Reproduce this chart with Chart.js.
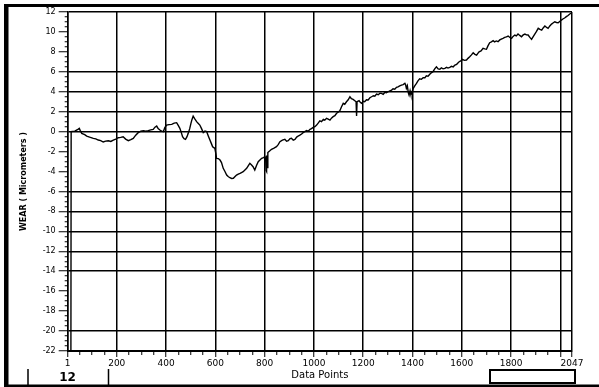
<!DOCTYPE html>
<html>
<head>
<meta charset="utf-8">
<title>Wear</title>
<script src="https://cdn.jsdelivr.net/npm/chart.js@4.4.1/dist/chart.umd.min.js"></script>
<style>
  html, body { margin: 0; padding: 0; background: #fff; }
  #wrap { position: relative; width: 599px; height: 387px; }
  canvas { display: block; }
</style>
</head>
<body>
<div id="wrap"><canvas id="c" width="599" height="387"></canvas></div>
<script>
// Sample number along the run
const pointIndex = [
  1, 14, 15, 30, 44, 48, 52, 58, 70, 78,
  90, 105, 115, 125, 135, 145, 155, 166, 176, 186,
  196, 206, 216, 226, 236, 247, 257, 267, 277, 287,
  298, 308, 318, 328, 338, 348, 355, 362, 368, 375,
  382, 389, 395, 402, 412, 423, 433, 443, 450, 456,
  462, 467, 473, 479, 485, 490, 496, 501, 505, 510,
  516, 524, 530, 537, 544, 551, 558, 565, 571, 578,
  584, 589, 594, 598, 602, 605, 612, 619, 625, 632,
  639, 646, 652, 659, 666, 673, 680, 686, 693, 700,
  706, 713, 720, 727, 734, 740, 747, 753, 760, 767,
  774, 781, 788, 795, 801, 804, 806, 807, 808, 809,
  811, 813, 820, 828, 838, 848, 855, 862, 872, 882,
  889, 896, 903, 909, 916, 923, 930, 936, 943, 950,
  956, 963, 970, 977, 984, 990, 997, 1004, 1011, 1017,
  1024, 1031, 1038, 1044, 1051, 1058, 1065, 1071, 1078, 1085,
  1092, 1098, 1105, 1112, 1119, 1125, 1132, 1139, 1146, 1152,
  1159, 1166, 1171, 1173, 1175, 1183, 1188, 1193, 1200, 1206,
  1213, 1220, 1227, 1234, 1241, 1247, 1254, 1261, 1268, 1274,
  1281, 1288, 1294, 1301, 1308, 1315, 1321, 1328, 1335, 1341,
  1348, 1355, 1362, 1369, 1372, 1375, 1379, 1383, 1386, 1390,
  1393, 1396, 1399, 1403, 1409, 1416, 1422, 1429, 1436, 1443,
  1450, 1456, 1463, 1470, 1476, 1483, 1490, 1497, 1504, 1511,
  1517, 1524, 1531, 1538, 1544, 1551, 1558, 1565, 1572, 1579,
  1585, 1589, 1596, 1603, 1610, 1619, 1625, 1632, 1639, 1646,
  1653, 1660, 1665, 1670, 1678, 1686, 1693, 1700, 1706, 1713,
  1720, 1727, 1733, 1740, 1747, 1754, 1760, 1767, 1774, 1781,
  1788, 1795, 1802, 1808, 1815, 1821, 1828, 1835, 1842, 1849,
  1856, 1862, 1869, 1876, 1883, 1889, 1896, 1903, 1910, 1917,
  1924, 1930, 1937, 1944, 1950, 1957, 1964, 1970, 1977, 1984,
  1991, 1997, 2004, 2010, 2017, 2024, 2031, 2038, 2045
];

// Wear in micrometers at each sample
const wear = [
  -22, -22, 0, 0.05, 0.26, 0.33, 0.1, -0.17, -0.3, -0.44,
  -0.55, -0.67, -0.72, -0.84, -0.9, -1.04, -0.95, -0.91, -0.98, -0.84,
  -0.75, -0.61, -0.58, -0.51, -0.75, -0.91, -0.8, -0.67, -0.35, -0.1,
  0.05, 0.1, 0.05, 0.1, 0.18, 0.23, 0.45, 0.56, 0.3, 0.16,
  0.05, 0, 0.4, 0.66, 0.7, 0.73, 0.85, 0.9, 0.6, 0.33,
  -0.1, -0.51, -0.7, -0.77, -0.5, -0.17, 0.3, 0.83, 1.2, 1.56,
  1.3, 1.0, 0.85, 0.66, 0.3, -0.1, 0.05, 0, -0.4, -0.84,
  -1.2, -1.51, -1.6, -1.68, -2.2, -2.68, -2.7, -2.85, -3.1, -3.68,
  -4.0, -4.35, -4.5, -4.62, -4.7, -4.68, -4.5, -4.35, -4.25, -4.18,
  -4.1, -4.02, -3.85, -3.68, -3.4, -3.18, -3.35, -3.52, -3.85, -3.4,
  -3.02, -2.85, -2.68, -2.6, -2.52, -2.7, -3.9, -2.5, -4.0, -2.4,
  -3.6, -2.1, -1.95, -1.77, -1.65, -1.51, -1.3, -1.01, -0.85, -0.77,
  -0.95, -0.91, -0.7, -0.67, -0.85, -0.77, -0.55, -0.44, -0.35, -0.24,
  -0.1, 0, 0.12, 0.05, 0.23, 0.3, 0.43, 0.5, 0.66, 0.85,
  1.09, 1.0, 1.23, 1.15, 1.33, 1.25, 1.16, 1.35, 1.5, 1.6,
  1.84, 1.95, 2.1, 2.5, 2.84, 2.75, 3.0, 3.2, 3.5, 3.3,
  3.24, 3.1, 3.0, 1.56, 3.0, 3.1, 2.95, 2.84, 3.05, 3.0,
  3.2, 3.17, 3.4, 3.5, 3.6, 3.55, 3.77, 3.7, 3.85, 3.84,
  3.75, 3.95, 3.9, 4.0, 4.1, 4.17, 4.3, 4.25, 4.44, 4.5,
  4.6, 4.67, 4.72, 4.84, 4.7, 4.35, 4.6, 3.9, 3.67, 4.1,
  3.75, 3.77, 4.0, 4.34, 4.6, 4.84, 5.1, 5.3, 5.25, 5.4,
  5.4, 5.6, 5.55, 5.75, 5.9, 6.01, 6.3, 6.51, 6.3, 6.25,
  6.4, 6.3, 6.35, 6.45, 6.38, 6.45, 6.55, 6.5, 6.68, 6.75,
  6.9, 7.01, 7.1, 7.25, 7.15, 7.18, 7.35, 7.51, 7.7, 7.91,
  7.75, 7.68, 7.85, 8.01, 8.1, 8.36, 8.3, 8.26, 8.6, 8.92,
  9.0, 9.12, 9.0, 9.1, 9.02, 9.2, 9.28, 9.36, 9.45, 9.5,
  9.59, 9.45, 9.36, 9.55, 9.69, 9.6, 9.79, 9.65, 9.52, 9.7,
  9.79, 9.7, 9.69, 9.45, 9.26, 9.5, 9.79, 10.05, 10.36, 10.25,
  10.19, 10.4, 10.59, 10.45, 10.36, 10.6, 10.79, 10.9, 11.02, 10.95,
  10.92, 11.05, 11.19, 11.3, 11.4, 11.53, 11.65, 11.8, 11.9
];

// Axis ticks
const xMajorTicks = [1, 200, 400, 600, 800, 1000, 1200, 1400, 1600, 1800, 2000, 2047];
const xTickLabels = ['1', '200', '400', '600', '800', '1000', '1200', '1400', '1600', '1800', '', '2047'];
const xMinorStep = 50;
const yMin = -22, yMax = 12, yMinorStep = 0.5;
const yGridValues = [12, 6, 4, 2, 0, -6, -8, -10, -12, -14, -20, -22];

const xAxisTitle = 'Data Points';
const yAxisTitle = 'WEAR ( Micrometers )';
const channelLabel = '12';

const FONT = 'DejaVu Sans';
const TRANSPARENT = 'rgba(0,0,0,0)';

function xTickValues() {
  const vals = new Set(xMajorTicks);
  for (let v = xMinorStep; v < xMajorTicks[xMajorTicks.length - 1]; v += xMinorStep) vals.add(v);
  return [...vals].sort((a, b) => a - b);
}
function yTickValues() {
  const vals = [];
  for (let v = yMin; v <= yMax + 1e-9; v += yMinorStep) vals.push(Math.round(v * 10) / 10);
  return vals;
}
const isXMajor = v => xMajorTicks.includes(v);
const isYMajor = v => Number.isInteger(v) && v % 2 === 0;

// Window frame, channel box and empty indicator drawn around the plot
const framePlugin = {
  id: 'frame',
  afterDraw(chart) {
    const ctx = chart.ctx;
    ctx.save();
    ctx.fillStyle = '#000';
    ctx.fillRect(4, 4, 595, 3);       // top bar
    ctx.fillRect(4, 4, 4.5, 383);     // left bar
    ctx.fillRect(4, 384.5, 595, 2.5); // bottom bar

    ctx.strokeStyle = '#000';
    ctx.lineWidth = 1.5;
    ctx.beginPath();
    ctx.moveTo(28, 369); ctx.lineTo(28, 385);
    ctx.moveTo(108.5, 369); ctx.lineTo(108.5, 385);
    ctx.stroke();

    ctx.font = 'bold 12px ' + FONT;
    ctx.textAlign = 'center';
    ctx.textBaseline = 'middle';
    ctx.fillText(channelLabel, 67.5, 377.5);

    ctx.lineWidth = 2;
    ctx.strokeRect(490, 370, 85, 13);
    ctx.restore();
  }
};

const ctx = document.getElementById('c').getContext('2d');
new Chart(ctx, {
  type: 'line',
  data: {
    datasets: [{
      data: pointIndex.map((x, i) => ({ x, y: wear[i] })),
      borderColor: '#000',
      borderWidth: 1.4,
      pointRadius: 0,
      tension: 0,
      fill: false
    }]
  },
  options: {
    responsive: false,
    animation: false,
    devicePixelRatio: 1,
    layout: { padding: { left: 17.7, right: 27, top: 12, bottom: 5 } },
    plugins: { legend: { display: false }, tooltip: { enabled: false } },
    scales: {
      x: {
        type: 'linear',
        min: 1,
        max: 2047,
        afterBuildTicks: s => { s.ticks = xTickValues().map(value => ({ value })); },
        afterFit: s => { s.height = 31; },
        border: { display: true, color: '#000', width: 2 },
        grid: {
          color: c => (c.tick && isXMajor(c.tick.value)) ? '#000' : TRANSPARENT,
          lineWidth: 1.5,
          tickColor: '#000',
          tickWidth: 1,
          tickLength: 6,
          tickBorderDash: c => (c.tick && isXMajor(c.tick.value)) ? [] : [3, 20]
        },
        ticks: {
          autoSkip: false,
          maxRotation: 0,
          padding: 1,
          color: '#000',
          font: { family: FONT, size: 9 },
          callback: v => {
            const i = xMajorTicks.indexOf(v);
            return i >= 0 ? xTickLabels[i] : '';
          }
        },
        title: {
          display: true,
          text: xAxisTitle,
          color: '#000',
          font: { family: FONT, size: 10 },
          padding: { top: 0, bottom: 1 }
        }
      },
      y: {
        type: 'linear',
        min: yMin,
        max: yMax,
        afterBuildTicks: s => { s.ticks = yTickValues().map(value => ({ value })); },
        afterFit: s => { s.width = 50; },
        border: { display: true, color: '#000', width: 1.5 },
        grid: {
          color: c => (c.tick && yGridValues.includes(c.tick.value)) ? '#000' : TRANSPARENT,
          lineWidth: 1.5,
          tickColor: '#000',
          tickWidth: 1,
          tickLength: 9,
          tickBorderDash: c => (c.tick && isYMajor(c.tick.value)) ? [] : [0, 6, 3, 20]
        },
        ticks: {
          autoSkip: false,
          padding: 3,
          color: '#000',
          font: { family: FONT, size: 8 },
          callback: v => isYMajor(v) ? String(v) : ''
        },
        title: {
          display: true,
          text: yAxisTitle,
          color: '#000',
          font: { family: FONT, size: 8, weight: 'bold' },
          padding: { top: 1, bottom: 0 }
        }
      }
    }
  },
  plugins: [framePlugin]
});
</script>
</body>
</html>
